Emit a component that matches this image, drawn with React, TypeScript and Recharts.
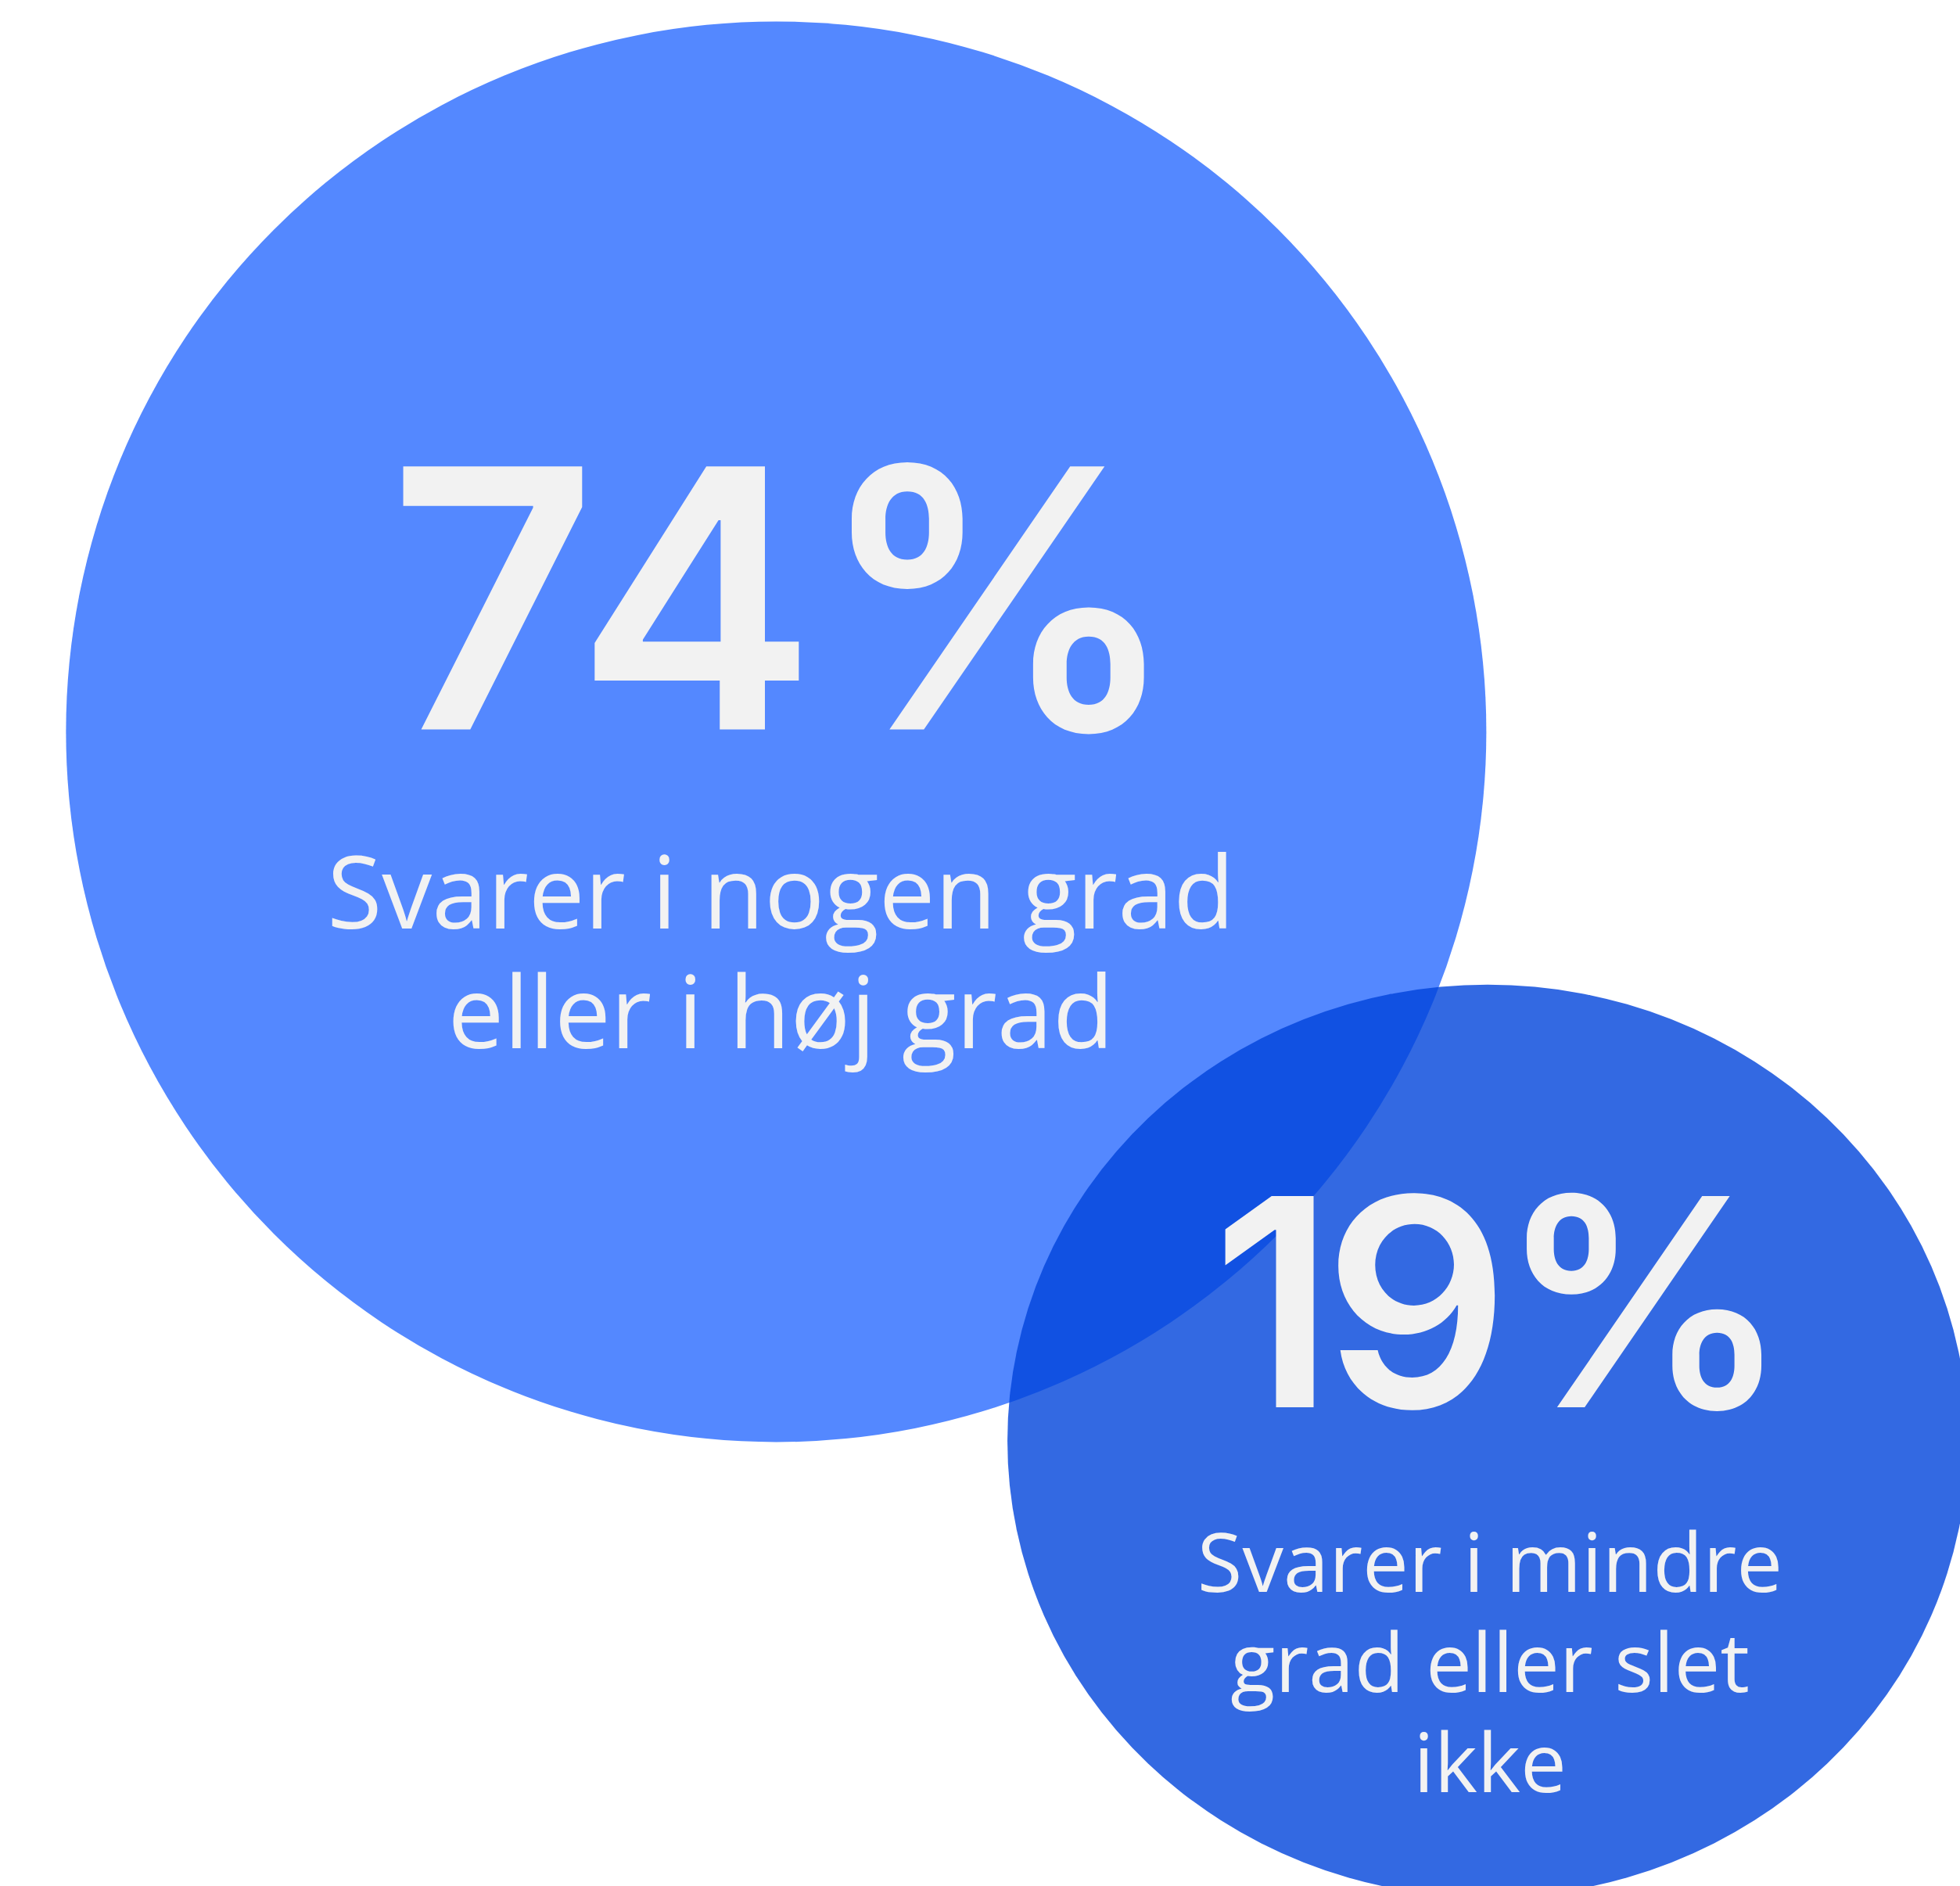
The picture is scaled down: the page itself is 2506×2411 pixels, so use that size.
import { Cell, Scatter, ScatterChart, XAxis, YAxis, ZAxis } from 'recharts';

// andel af svar, i procent
const shares = [74, 19];
const captions = [
  ['Svarer i nogen grad', 'eller i høj grad'],
  ['Svarer i mindre', 'grad eller slet', 'ikke'],
];
// placering af boblerne på et 0-100 gitter
const bubbleX = [39.6, 75.9];
const bubbleY = [61.2, 23.6];

const bubbles = shares.map((z, i) => ({ x: bubbleX[i], y: bubbleY[i], z, idx: i, caption: captions[i] }));

const W = 2506;
const H = 2411;
const TEXT = '#F2F2F2';

const look = [
  { fill: '#5488FF', opacity: 1, squash: 1, numSize: 462, numDx: 10, numDy: -3, numLs: 0, capSize: 128, capDx: 6, capDy: 252, lead: 153 },
  { fill: '#0044DB', opacity: 0.8, squash: 0.95, numSize: 371, numDx: 10, numDy: -43, numLs: -14, capSize: 105, capDx: 3, capDy: 193, lead: 128 },
];

function Bubble(props: any) {
  const { cx, cy, size, payload } = props;
  const st = look[payload.idx];
  const rx = Math.sqrt(size / Math.PI);
  const ry = rx * st.squash;
  return (
    <g>
      <ellipse cx={cx} cy={cy} rx={rx} ry={ry} fill={st.fill} fillOpacity={st.opacity} />
      <text
        x={cx + st.numDx}
        y={cy + st.numDy}
        textAnchor="middle"
        fontFamily="Inter, sans-serif"
        fontWeight={600}
        fontSize={st.numSize}
        letterSpacing={st.numLs}
        fill={TEXT}
      >
        {payload.z}%
      </text>
      <text textAnchor="middle" fontFamily="'Open Sans', sans-serif" fontSize={st.capSize} fill={TEXT}>
        {payload.caption.map((line: string, j: number) => (
          <tspan key={j} x={cx + st.capDx} y={cy + st.capDy + j * st.lead}>
            {line}
          </tspan>
        ))}
      </text>
    </g>
  );
}

export default function App() {
  return (
    <div style={{ position: 'absolute', left: 0, top: 0, width: W, height: H, background: '#fff' }}>
      <ScatterChart width={W} height={H} margin={{ top: 0, right: 0, bottom: 0, left: 0 }}>
        <XAxis type="number" dataKey="x" domain={[0, 100]} hide />
        <YAxis type="number" dataKey="y" domain={[0, 100]} hide />
        <ZAxis type="number" dataKey="z" domain={[19, 74]} range={[Math.PI * 614 * 614, Math.PI * 908 * 908]} />
        <Scatter data={bubbles} shape={<Bubble />} isAnimationActive={false}>
          {bubbles.map((b) => (
            <Cell key={b.idx} />
          ))}
        </Scatter>
      </ScatterChart>
    </div>
  );
}
